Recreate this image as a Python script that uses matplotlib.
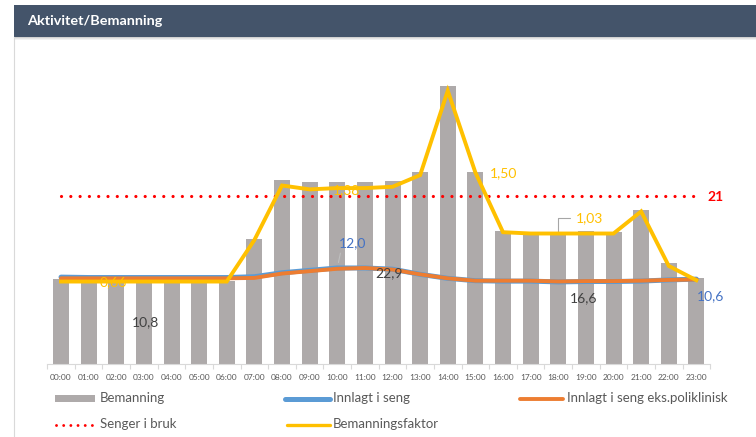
import matplotlib.pyplot as plt
from matplotlib.lines import Line2D
from matplotlib.patches import Rectangle
import numpy as np

plt.rcParams['font.family'] = ['Lato', 'DejaVu Sans']

hours = ['00:00', '01:00', '02:00', '03:00', '04:00', '05:00', '06:00', '07:00',
         '08:00', '09:00', '10:00', '11:00', '12:00', '13:00', '14:00', '15:00',
         '16:00', '17:00', '18:00', '19:00', '20:00', '21:00', '22:00', '23:00']
bemanning = [10.6, 10.4, 10.4, 10.4, 10.4, 10.4, 10.4, 15.7, 23.1, 22.8, 22.8, 22.8,
             22.9, 24.0, 34.8, 24.0, 16.6, 16.4, 16.4, 16.6, 16.5, 19.3, 12.6, 10.8]
innlagt = [10.85, 10.8, 10.8, 10.8, 10.8, 10.8, 10.8, 10.9, 11.4, 11.7, 12.0, 12.0,
           11.85, 11.2, 10.7, 10.4, 10.35, 10.35, 10.25, 10.3, 10.3, 10.35, 10.5, 10.6]
innlagt_eks = [10.7, 10.7, 10.7, 10.7, 10.7, 10.7, 10.7, 10.75, 11.3, 11.6, 11.9, 12.0,
               11.8, 11.2, 10.7, 10.4, 10.4, 10.4, 10.3, 10.35, 10.35, 10.4, 10.5, 10.55]
senger = [21] * 24
faktor = [0.66, 0.66, 0.66, 0.66, 0.66, 0.66, 0.66, 0.98, 1.40, 1.37, 1.38, 1.38,
          1.39, 1.48, 2.13, 1.50, 1.04, 1.03, 1.03, 1.03, 1.03, 1.20, 0.78, 0.67]

GREY = '#AEAAAA'
BLUE = '#5B9BD5'
ORANGE = '#ED7D31'
YELLOW = '#FFC000'
RED = '#FF0000'
TXT = '#595959'

W, H = 756, 437
fig = plt.figure(figsize=(W / 100, H / 100), dpi=100)
fig.patch.set_facecolor('white')


def px(x, y):
    return x / W, 1 - y / H


# header bar with a soft shadow
for k, a in enumerate([0.18, 0.10, 0.05]):
    fig.add_artist(Rectangle(px(14, 38 + k), (W - 14) / W, 1 / H,
                             transform=fig.transFigure, color='black', alpha=a, lw=0))
fig.add_artist(Rectangle(px(14, 37), (W - 14) / W, 32 / H,
                         transform=fig.transFigure, color='#44546A', lw=0))
fig.text(*px(27, 21), 'Aktivitet/Bemanning', color='white', fontsize=10.4,
         fontweight='bold', va='center', ha='left')
fig.add_artist(Line2D([14 / W, 14 / W], [0, 1 - 37 / H], transform=fig.transFigure,
                      color='#D9D9D9', lw=0.8))

# main axes
ax = fig.add_axes([47.2 / W, (H - 363.5) / H, 663 / W, 302.5 / H])
ax2 = ax.twinx()
x = np.arange(len(hours))

ax.bar(x, bemanning, width=0.58, color=GREY, zorder=1)
ax.plot(x, senger, color=RED, lw=2.3, linestyle=(0, (0.01, 2.9)),
        dash_capstyle='round', zorder=2)
ax.plot(x, innlagt, color=BLUE, lw=3.6, solid_capstyle='round', zorder=2)
ax.plot(x, innlagt_eks, color=ORANGE, lw=2.8, solid_capstyle='round', zorder=2)
ax2.plot(x, faktor, color=YELLOW, lw=2.8, solid_joinstyle='miter')

ax.set_xlim(-0.5, 23.5)
ax.set_ylim(0, 38)
ax2.set_ylim(0.0285, 2.359)

for a in (ax, ax2):
    for s in ('top', 'right', 'left'):
        a.spines[s].set_visible(False)
    a.set_facecolor('none')
ax2.spines['bottom'].set_visible(False)
ax2.set_yticks([])
ax.set_yticks([])
ax.spines['bottom'].set_color('#D9D9D9')
ax.set_xticks(x)
ax.set_xticklabels(hours, fontsize=6, color=TXT)
ax.tick_params(axis='x', which='major', length=0, pad=7.2)
ax.set_xticks(np.arange(-0.5, 24), minor=True)
ax.tick_params(axis='x', which='minor', length=3.5, color='#D9D9D9', width=0.8)

# data labels
lbl = dict(fontsize=10, ha='center', va='center', textcoords='offset points')
ax.annotate('12,0', xy=(10, innlagt[10]), xytext=(10.8, 18), color='#4472C4',
            arrowprops=dict(arrowstyle='-', color='#BFBFBF', lw=0.8,
                            relpos=(0.1, 0), shrinkA=1, shrinkB=4), **lbl)
ax.annotate('10,6', xy=(23, innlagt[23]), xytext=(10.5, -12.2), color='#4472C4', **lbl)
ax.annotate('10,8', xy=(3, innlagt[3]), xytext=(0.8, -32), color='#404040', **lbl)
ax.annotate('22,9', xy=(12, bemanning[12]), xytext=(-2.6, -66), color='#404040', **lbl)
ax.annotate('16,6', xy=(19, bemanning[19]), xytext=(-1.4, -48), color='#404040', **lbl)
ax.annotate('21', xy=(23, senger[23]), xytext=(14, -0.5), color=RED,
            fontweight='bold', **lbl)
ax.annotate('0,66', xy=(2, faktor[2]), xycoords=ax2.transData, xytext=(-2.4, -0.4),
            color=YELLOW, **lbl)
ax.annotate('1,38', xy=(10, faktor[10]), xycoords=ax2.transData, xytext=(6.3, -1.4),
            color=YELLOW, **lbl)
ax.annotate('1,50', xy=(15, faktor[15]), xycoords=ax2.transData, xytext=(20.5, -0.4),
            color=YELLOW, **lbl)
ax.annotate('1,03', xy=(18, faktor[18]), xycoords=ax2.transData, xytext=(22.3, 11.2),
            color=YELLOW,
            arrowprops=dict(arrowstyle='-', color='#A6A6A6', lw=0.8, relpos=(0, 0.5),
                            connectionstyle='angle,angleA=0,angleB=90,rad=0',
                            shrinkA=2, shrinkB=1), **lbl)

# legend
fig.add_artist(Rectangle(px(55, 401.5), 40 / W, 6.5 / H, transform=fig.transFigure,
                         color=GREY, lw=0))
fig.add_artist(Line2D([285 / W, 330 / W], [1 - 399 / H] * 2, transform=fig.transFigure,
                      color=BLUE, lw=3.6, solid_capstyle='round'))
fig.add_artist(Line2D([520 / W, 563 / W], [1 - 399 / H] * 2, transform=fig.transFigure,
                      color=ORANGE, lw=2.8, solid_capstyle='round'))
fig.add_artist(Line2D([56 / W, 94 / W], [1 - 425 / H] * 2, transform=fig.transFigure,
                      color=RED, lw=2.1, linestyle=(0, (0.01, 2.45)),
                      dash_capstyle='round'))
fig.add_artist(Line2D([287 / W, 330 / W], [1 - 425 / H] * 2, transform=fig.transFigure,
                      color=YELLOW, lw=2.4, solid_capstyle='round'))
leg = dict(fontsize=9.5, color=TXT, va='center', ha='left')
fig.text(*px(100, 398), 'Bemanning', **leg)
fig.text(*px(333, 398), 'Innlagt i seng', **leg)
fig.text(*px(567, 398), 'Innlagt i seng eks.poliklinisk', **leg)
fig.text(*px(100, 424), 'Senger i bruk', **leg)
fig.text(*px(333, 424), 'Bemanningsfaktor', **leg)

fig.savefig('out.png', dpi=100)
